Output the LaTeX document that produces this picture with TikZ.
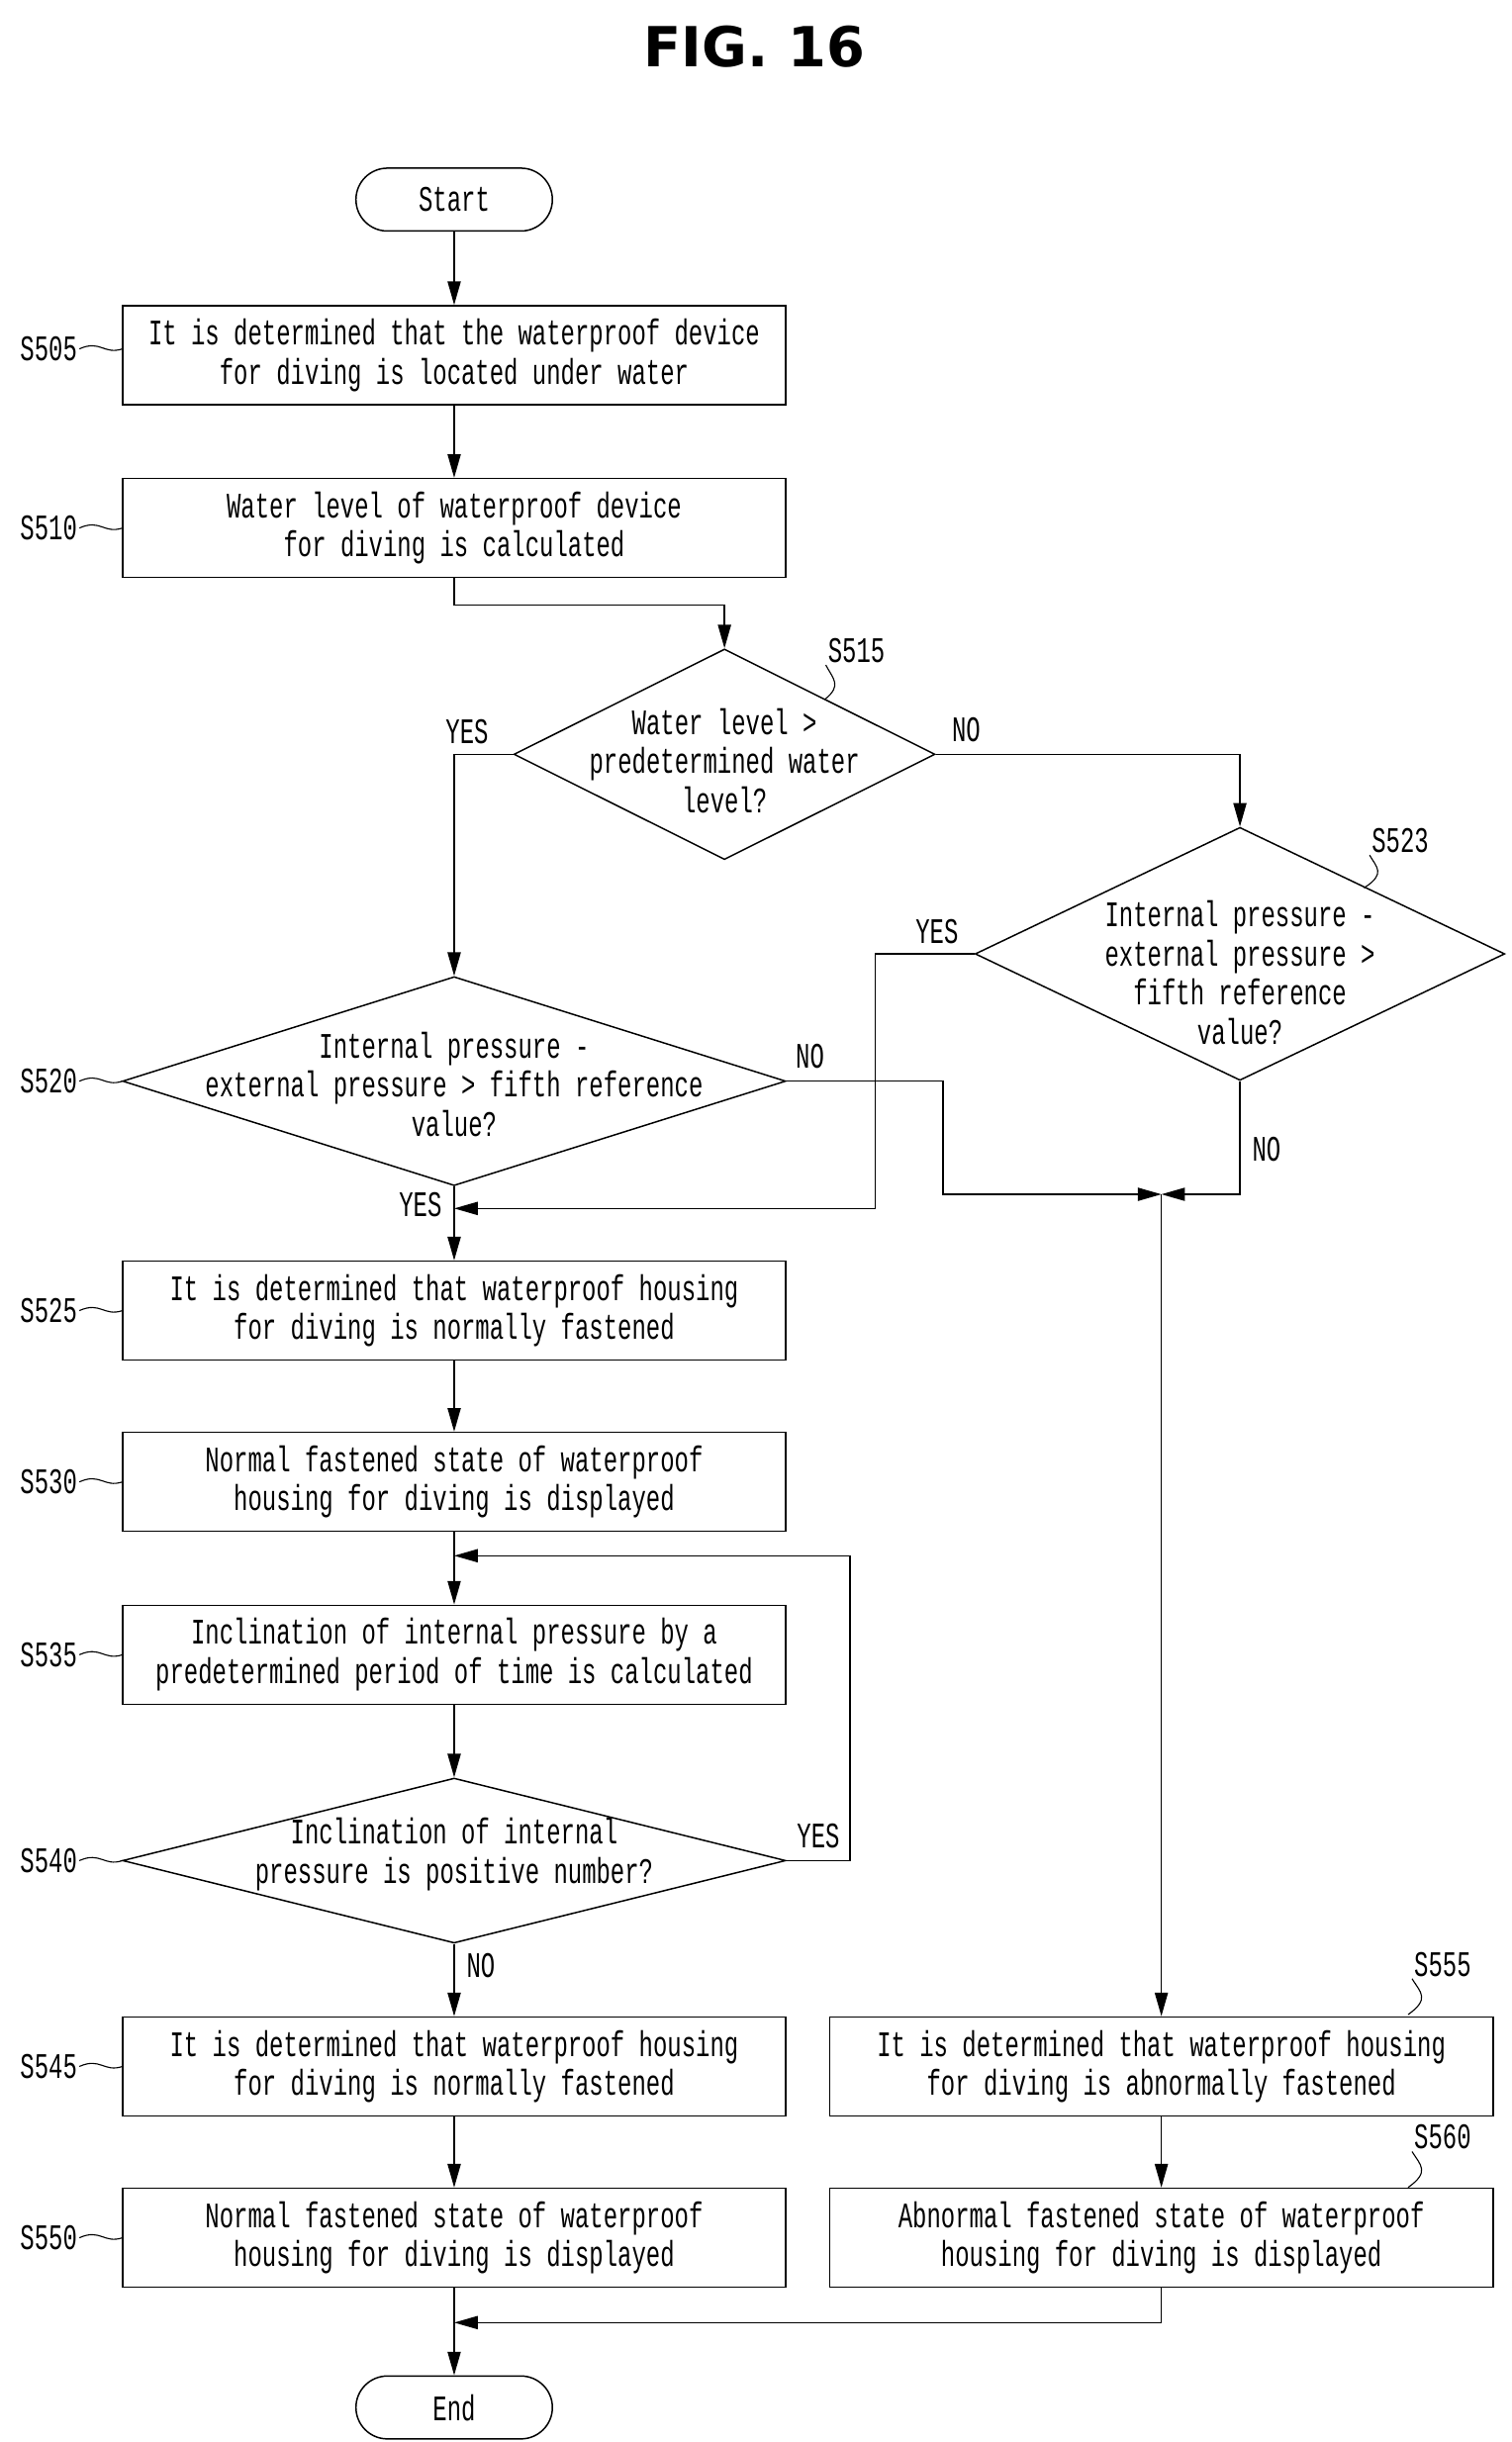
\documentclass[tikz,border=0pt]{standalone}
\usepackage{fontspec}
\setmainfont[FakeStretch=0.66]{Liberation Mono}
\newfontfamily\titlefont{DejaVu Sans}
\usepackage{tikz}
\usetikzlibrary{shapes.geometric}
\usetikzlibrary{arrows.meta}
\usetikzlibrary{calc}

\begin{document}
\begin{tikzpicture}[
        x=0.03cm, y=-0.03cm,
        font=\fontsize{19.5}{21.3}\selectfont,
        defaultS/.style={
            thick,
            fill=white,
            align=center,
            inner sep=0pt,
            draw=black
        },
        boxS/.style={
        	defaultS,
        	rectangle,
        	minimum width=12.66cm,
        	minimum height=1.89cm
        },
        termS/.style={
        	defaultS,
        	rectangle,
        	rounded corners=0.6cm,
        	minimum width=3.75cm,
        	minimum height=1.2cm
        },
        diaS/.style={
        	defaultS,
        	diamond
        },
        arrowS/.style={
            thick,
            -{Triangle[length=0.45cm,width=0.25cm]}
        },
        lineS/.style={thick,-},
        tagS/.style={inner sep=1pt},
        tickS/.style={semithick},
    ]
    \useasboundingbox (0,0) rectangle (962,1554);

	\node[font=\titlefont\bfseries\fontsize{30}{34}\selectfont] (title) at (480,30) {FIG. 16};

	% left column
	\node[termS] (start) at (289,127) {Start};
	\node[boxS] (b505) at (289,226) {It is determined that the waterproof device\\for diving is located under water};
	\node[boxS] (b510) at (289,336) {Water level of waterproof device\\for diving is calculated};
	\node[diaS, minimum width=8.04cm, minimum height=4.02cm] (d515) at (461,480) {};
	\node[align=center] (t515) at (461,484) {Water level >\\predetermined water\\level?};
	\node[diaS, minimum width=10.11cm, minimum height=4.83cm] (d523) at (789,607) {};
	\node[align=center] (t523) at (789,619) {Internal pressure -\\external pressure >\\fifth reference\\value?};
	\node[diaS, minimum width=12.66cm, minimum height=3.99cm] (d520) at (289,688) {};
	\node[align=center] (t520) at (289,690) {Internal pressure -\\external pressure > fifth reference\\value?};
	\node[boxS] (b525) at (289,834) {It is determined that waterproof housing\\for diving is normally fastened};
	\node[boxS] (b530) at (289,943) {Normal fastened state of waterproof\\housing for diving is displayed};
	\node[boxS] (b535) at (289,1053) {Inclination of internal pressure by a\\predetermined period of time is calculated};
	\node[diaS, minimum width=12.66cm, minimum height=3.15cm] (d540) at (289,1184) {};
	\node[align=center] (t540) at (289,1180) {Inclination of internal\\pressure is positive number?};
	\node[boxS] (b545) at (289,1315) {It is determined that waterproof housing\\for diving is normally fastened};
	\node[boxS] (b550) at (289,1424) {Normal fastened state of waterproof\\housing for diving is displayed};
	\node[termS] (end) at (289,1532) {End};

	% right column
	\node[boxS] (b555) at (739,1315) {It is determined that waterproof housing\\for diving is abnormally fastened};
	\node[boxS] (b560) at (739,1424) {Abnormal fastened state of waterproof\\housing for diving is displayed};

	\coordinate (m510) at (289,385);
	\coordinate (m540) at (289,990);
	\coordinate (r540) at (541,1184);
	\coordinate (j1) at (739,760);
	\coordinate (m560) at (289,1478);

	\draw[arrowS] (start) -- (b505);
	\draw[arrowS] (b505) -- (b510);
	\draw[arrowS] (b510.south) -- (m510) -| (d515.north);
	\draw[arrowS] (d515.west) -| node[pos=0.12,above left=2pt] {YES} (d520.north);
	\draw[arrowS] (d515.east) -| node[pos=0.05,above=3pt] {NO} (d523.north);
	\draw[arrowS] (d523.west) -| node[pos=0.35,above right=2pt] {YES} (557,769) -- (289,769);
	\draw[arrowS] (d520.east) -- node[pos=0.15,above=3pt] {NO} (600,688) |- (j1);
	\draw[arrowS] (d523.south) |- node[pos=0.3,right=3pt] {NO} (j1);
	\draw[arrowS] (j1) -- (b555);
	\draw[arrowS] (d520.south) -- node[pos=0.25,left=3pt] {YES} (b525);
	\draw[arrowS] (b525) -- (b530);
	\draw[arrowS] (b530) -- (b535);
	\draw[arrowS] (d540.east) -- node[pos=0.5,above=3pt] {YES} (r540) |- (m540);
	\draw[arrowS] (b535) -- (d540);
	\draw[arrowS] (d540.south) -- node[pos=0.3,right=3pt] {NO} (b545);
	\draw[arrowS] (b545) -- (b550);
	\draw[arrowS] (b550) -- (end);
	\draw[arrowS] (b555) -- (b560);
	\draw[arrowS] (b560.south) -- (739,1478) -- (m560);

	% step tags
	\foreach \n/\y in {505/222,510/336,520/688,525/834,530/943,535/1053,540/1184,545/1315,550/1424}{
		\node[tagS] (s\n) at (31,\y) {S\n};
		\draw[tickS] (s\n.east) .. controls (64,\y-6) and (66,\y+4) .. (78,\y);
	}
	\node[tagS] (s515) at (545,414) {S515};
	\draw[tickS] (s515.south west) .. controls (530,432) and (536,436) .. (525,445);
	\node[tagS] (s523) at (891,535) {S523};
	\draw[tickS] (s523.south west) .. controls (876,552) and (882,556) .. (868,565);
	\node[tagS] (s555) at (918,1250) {S555};
	\draw[tickS] (s555.south west) .. controls (904,1268) and (910,1272) .. (896,1282);
	\node[tagS] (s560) at (918,1360) {S560};
	\draw[tickS] (s560.south west) .. controls (904,1378) and (910,1382) .. (896,1392);
\end{tikzpicture}
\end{document}
